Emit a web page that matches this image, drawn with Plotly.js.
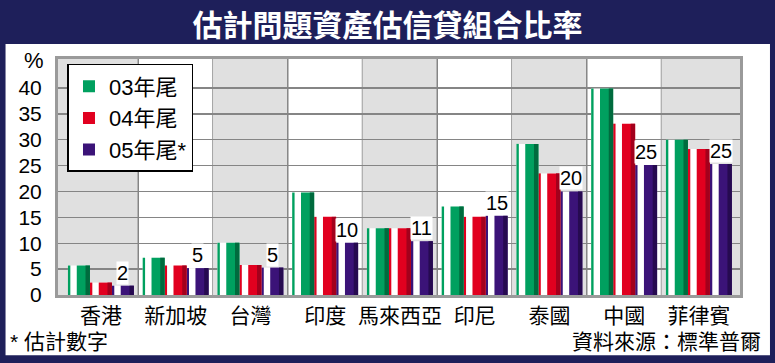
<!DOCTYPE html>
<html>
<head>
<meta charset="utf-8">
<script src="https://cdn.plot.ly/plotly-3.0.1.min.js"></script>
<style>
  html, body { margin: 0; padding: 0; background: #1e1f5a; }
  #chart { width: 775px; height: 363px; }
</style>
</head>
<body>
<div id="chart"></div>
<script>
// ---- data ----
const categories = ['香港', '新加坡', '台灣', '印度', '馬來西亞', '印尼', '泰國', '中國', '菲律賓'];
const y03 = [5.7, 7.2, 10.1, 19.8, 12.9, 17.1, 29.2, 39.9, 30.0];
const y04 = [2.4, 5.7, 5.8, 15.1, 12.9, 15.1, 23.5, 33.1, 28.2];
const y05 = [1.8, 5.2, 5.3, 10.1, 10.4, 15.3, 20.0, 25.1, 25.3];
const labels05 = ['2', '5', '5', '10', '11', '15', '20', '25', '25'];
const seriesNames = ['03年尾', '04年尾', '05年尾*'];
const yTickVals = [0, 5, 10, 15, 20, 25, 30, 35, 40];

// ---- styling ----
const series = [y03, y04, y05];
const mainColors = ['#00a05f', '#e1001f', '#3b1378'];
const darkColors = ['#006b3e', '#a3001c', '#260a50'];
const slot = 0.294;
const groupStart = -1.5 * slot;
const xRange = [-0.574, categories.length - 0.45];
const latin = 'Liberation Sans, Arial, sans-serif';
const cjk = 'Liberation Sans, Noto Sans CJK TC, sans-serif';

const bases = [], stripes = [], mains = [], darks = [];
series.forEach((vals, s) => {
  const o = groupStart + s * slot;
  const common = { type: 'bar', x: categories, y: vals, hoverinfo: 'skip' };
  bases.push(Object.assign({}, common, { offset: o, width: slot, marker: { color: '#ffffff', line: { width: 0 } }, showlegend: false }));
  stripes.push(Object.assign({}, common, { offset: o, width: 0.032, marker: { color: mainColors[s], line: { width: 0 } }, showlegend: false }));
  mains.push(Object.assign({}, common, { name: seriesNames[s], offset: o + 0.118, width: slot - 0.118, marker: { color: mainColors[s], line: { width: 0 } }, showlegend: true }));
  darks.push(Object.assign({}, common, { offset: o + 0.235, width: slot - 0.235, marker: { color: darkColors[s], line: { width: 0 } }, showlegend: false }));
});
const traces = [...bases, ...stripes, ...mains, ...darks];

// px -> paper helpers for decoration outside the plot area
const W = 775, H = 363;
const mL = 57.5, mR = 35, mT = 59, mB = 67.5;
const pw = W - mL - mR, ph = H - mT - mB;
const px = v => (v - mL) / pw;
const py = v => (H - mB - v) / ph;

const shapes = [];
// white panel
shapes.push({ type: 'rect', xref: 'paper', yref: 'paper', layer: 'below',
  x0: px(5), x1: px(770), y0: py(356), y1: py(44), fillcolor: '#ffffff', line: { width: 0 } });
// alternating column bands and column separators
categories.forEach((c, i) => {
  if (i % 2 === 0) {
    shapes.push({ type: 'rect', xref: 'x', yref: 'paper', layer: 'below',
      x0: i === 0 ? xRange[0] : i - 0.5, x1: i === categories.length - 1 ? xRange[1] : i + 0.5,
      y0: 0, y1: 1, fillcolor: '#e0e0e0', line: { width: 0 } });
  }
  if (i < categories.length - 1) {
    shapes.push({ type: 'line', xref: 'x', yref: 'paper', layer: 'below',
      x0: i + 0.5, x1: i + 0.5, y0: 0, y1: 1, line: { color: '#858585', width: 1.5 } });
  }
});

const annotations = [];
labels05.forEach((t, i) => {
  annotations.push({ x: i + groupStart + 2.5 * slot, y: y05[i], xref: 'x', yref: 'y',
    text: t, showarrow: false, yanchor: 'bottom', xanchor: 'center', yshift: 1,
    bgcolor: '#ffffff', borderpad: 0, font: { family: latin, size: 20, color: '#000' } });
});
annotations.push({ xref: 'paper', yref: 'paper', x: px(33), y: py(61), text: '%', showarrow: false,
  xanchor: 'center', yanchor: 'middle', font: { family: latin, size: 22, color: '#000' } });
annotations.push({ xref: 'paper', yref: 'paper', x: px(7), y: py(342), text: '* 估計數字', showarrow: false,
  xanchor: 'left', yanchor: 'middle', font: { family: cjk, size: 21, color: '#000' } });
annotations.push({ xref: 'paper', yref: 'paper', x: px(763), y: py(342), text: '資料來源：標準普爾', showarrow: false,
  xanchor: 'right', yanchor: 'middle', font: { family: cjk, size: 21, color: '#000' } });

const layout = {
  width: W, height: H,
  margin: { l: mL, r: mR, t: mT, b: mB, pad: 0 },
  paper_bgcolor: '#1e1f5a',
  plot_bgcolor: '#ffffff',
  barmode: 'overlay',
  title: { text: '估計問題資產估信貸組合比率', x: 0.5, xref: 'container', xanchor: 'center',
    y: 1 - 25 / H, yref: 'container', yanchor: 'middle',
    font: { family: 'Noto Sans CJK TC, sans-serif', size: 30, color: '#ffffff', weight: 'bold' } },
  xaxis: { type: 'category', range: xRange, showgrid: false, zeroline: false,
    ticks: '', showline: true, mirror: true, linecolor: '#9a9a9a', linewidth: 3,
    tickfont: { family: cjk, size: 21, color: '#000' }, fixedrange: true },
  yaxis: { range: [0, 45.6], tickmode: 'array', tickvals: yTickVals, showgrid: true, gridcolor: '#858585', gridwidth: 1.5,
    zeroline: false, showline: true, mirror: true, linecolor: '#9a9a9a', linewidth: 3,
    ticks: 'outside', ticklen: 9, tickcolor: 'rgba(0,0,0,0)',
    tickfont: { family: latin, size: 21, color: '#000' }, fixedrange: true },
  legend: { x: px(67), y: py(64), xanchor: 'left', yanchor: 'top', bgcolor: '#ffffff',
    bordercolor: '#000000', borderwidth: 1.5, font: { family: cjk, size: 22, color: '#000' },
    traceorder: 'normal' },
  shapes: shapes,
  annotations: annotations,
  showlegend: true
};

Plotly.newPlot('chart', traces, layout, { displayModeBar: false, staticPlot: true });
</script>
</body>
</html>
